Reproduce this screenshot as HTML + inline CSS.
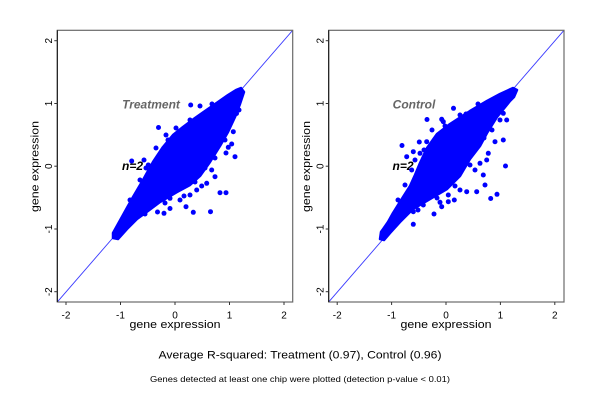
<!DOCTYPE html>
<html><head><meta charset="utf-8"><style>
html,body{margin:0;padding:0;background:#fff;}
svg{display:block;font-family:"Liberation Sans",Arial,sans-serif;}
</style></head><body>
<svg width="600" height="400" viewBox="0 0 600 400" xmlns="http://www.w3.org/2000/svg">
<rect width="600" height="400" fill="#fff"/>
<defs>
<clipPath id="c1"><rect x="57.3" y="30.3" width="235.4" height="271.7"/></clipPath>
<clipPath id="c2"><rect x="328.7" y="30.3" width="235.3" height="271.7"/></clipPath>
</defs>

<!-- LEFT PANEL -->
<g font-weight="bold" font-style="italic" font-size="12">
<text x="151" y="108.5" text-anchor="middle" fill="#666">Treatment</text>
<text x="122" y="170" fill="#000">n=2</text>
</g>
<g clip-path="url(#c1)">
<line x1="57.3" y1="302" x2="292.7" y2="30.3" stroke="#3a3aff" stroke-width="0.9"/>
<polygon fill="#0000ff" stroke="#0000ff" stroke-width="2.5" stroke-linejoin="round" points="113,238 113,233 123,215 133,197 143,180 153,162 163,147 173,135 183,127 195,118 205,111 218,102 228,95 236,90 241,88 244,92 240,104 235,117 228,132 220,146 210,162 200,176 190,185 177,192 160,202 148,211 137,219 127,229 118,239"/>
<g fill="#0000ff">
<circle cx="190.7" cy="105" r="2.5"/><circle cx="200" cy="106" r="2.5"/><circle cx="158.5" cy="127.5" r="2.5"/>
<circle cx="131.7" cy="161" r="2.5"/><circle cx="144" cy="160" r="2.5"/><circle cx="148.3" cy="165" r="2.5"/>
<circle cx="235" cy="156.7" r="2.5"/><circle cx="226" cy="153" r="2.5"/><circle cx="231.7" cy="144" r="2.5"/>
<circle cx="228.3" cy="147.3" r="2.5"/><circle cx="220" cy="192.7" r="2.5"/><circle cx="226" cy="192.7" r="2.5"/>
<circle cx="210.5" cy="211.7" r="2.5"/><circle cx="193.3" cy="212.3" r="2.5"/><circle cx="164" cy="213.3" r="2.5"/>
<circle cx="157.5" cy="212" r="2.5"/><circle cx="170" cy="208.5" r="2.5"/><circle cx="186" cy="206.7" r="2.5"/>
<circle cx="201.7" cy="186" r="2.5"/><circle cx="206.7" cy="183.3" r="2.5"/><circle cx="215" cy="176.7" r="2.5"/>
<circle cx="211.7" cy="170" r="2.5"/><circle cx="236.5" cy="113.5" r="2.5"/><circle cx="233.3" cy="131.7" r="2.5"/>
<circle cx="228.3" cy="126.7" r="2.5"/><circle cx="180" cy="200" r="2.5"/><circle cx="190" cy="195" r="2.5"/>
<circle cx="196.7" cy="190" r="2.5"/><circle cx="176.7" cy="190" r="2.5"/><circle cx="160" cy="200" r="2.5"/>
<circle cx="150" cy="203.3" r="2.5"/><circle cx="170" cy="198.3" r="2.5"/>
<circle cx="176" cy="128" r="2.5"/><circle cx="166" cy="135" r="2.5"/><circle cx="156" cy="148" r="2.5"/>
<circle cx="146" cy="168" r="2.5"/><circle cx="140" cy="180" r="2.5"/><circle cx="130" cy="200" r="2.5"/>
<circle cx="190" cy="120" r="2.5"/><circle cx="212" cy="104" r="2.5"/><circle cx="222" cy="138" r="2.5"/>
<circle cx="205" cy="168" r="2.5"/><circle cx="184" cy="196" r="2.5"/><circle cx="140" cy="214" r="2.5"/>
<circle cx="125" cy="222" r="2.5"/><circle cx="135" cy="205" r="2.5"/><circle cx="152" cy="170" r="2.5"/>
<circle cx="168" cy="140" r="2.5"/><circle cx="180" cy="131" r="2.5"/><circle cx="203" cy="115" r="2.5"/>
<circle cx="239" cy="110" r="2.5"/><circle cx="225" cy="140" r="2.5"/><circle cx="215" cy="158" r="2.5"/>
<circle cx="195" cy="182" r="2.5"/><circle cx="165" cy="203" r="2.5"/><circle cx="145" cy="214" r="2.5"/>
</g>
</g>
<rect x="57.3" y="30.3" width="235.4" height="271.7" fill="none" stroke="#6a6a6a" stroke-width="1.2"/>
<line x1="57.3" y1="30.3" x2="57.3" y2="302" stroke="#111" stroke-width="1"/>
<g stroke="#333" stroke-width="1">
<line x1="66" y1="302" x2="66" y2="305"/><line x1="120.5" y1="302" x2="120.5" y2="305"/><line x1="175" y1="302" x2="175" y2="305"/><line x1="229.5" y1="302" x2="229.5" y2="305"/><line x1="284" y1="302" x2="284" y2="305"/>
<line x1="54.3" y1="40.7" x2="57.3" y2="40.7"/><line x1="54.3" y1="103.5" x2="57.3" y2="103.5"/><line x1="54.3" y1="166.2" x2="57.3" y2="166.2"/><line x1="54.3" y1="229" x2="57.3" y2="229"/><line x1="54.3" y1="291.7" x2="57.3" y2="291.7"/>
</g>
<g font-size="10" fill="#000" text-anchor="middle">
<text x="66" y="318.5">-2</text><text x="120.5" y="318.5">-1</text><text x="175" y="318.5">0</text><text x="229.5" y="318.5">1</text><text x="284" y="318.5">2</text>
<text x="52" y="40.7" transform="rotate(-90 52 40.7)">2</text>
<text x="52" y="103.5" transform="rotate(-90 52 103.5)">1</text>
<text x="52" y="166.2" transform="rotate(-90 52 166.2)">0</text>
<text x="52" y="229" transform="rotate(-90 52 229)">-1</text>
<text x="52" y="291.7" transform="rotate(-90 52 291.7)">-2</text>
</g>
<text x="129.5" y="328" font-size="11" textLength="91" lengthAdjust="spacingAndGlyphs">gene expression</text>
<text x="38.5" y="212" font-size="11" textLength="91" lengthAdjust="spacingAndGlyphs" transform="rotate(-90 38.5 212)">gene expression</text>

<!-- RIGHT PANEL -->
<g font-weight="bold" font-style="italic" font-size="12">
<text x="414" y="108.5" text-anchor="middle" fill="#666">Control</text>
<text x="392.5" y="170" fill="#000">n=2</text>
</g>
<g clip-path="url(#c2)">
<line x1="328.7" y1="302" x2="564" y2="30.3" stroke="#3a3aff" stroke-width="0.9"/>
<polygon fill="#0000ff" stroke="#0000ff" stroke-width="2.5" stroke-linejoin="round" points="380,239 381,232 388,222 393,213 403,197 410,186 415,175 420,163 427,148 437,134 450,124 470,111 487,101 500,94 513,88 517,90 514,97 510,101 497,117 487,133 480,146 470,159 460,176 447,189 430,199 413,209 400,222 390,233 384,240"/>
<g fill="#0000ff">
<circle cx="453.5" cy="108.3" r="2.5"/><circle cx="427" cy="119.5" r="2.5"/><circle cx="441.7" cy="119.3" r="2.5"/>
<circle cx="443.3" cy="121.7" r="2.5"/><circle cx="402" cy="145.5" r="2.5"/><circle cx="419.3" cy="142" r="2.5"/>
<circle cx="426.7" cy="141.7" r="2.5"/><circle cx="413.3" cy="151.7" r="2.5"/><circle cx="420" cy="153.3" r="2.5"/>
<circle cx="505.5" cy="166" r="2.5"/><circle cx="503.3" cy="140" r="2.5"/><circle cx="495" cy="141.7" r="2.5"/>
<circle cx="506.7" cy="120" r="2.5"/><circle cx="503.3" cy="113.3" r="2.5"/><circle cx="483.3" cy="175" r="2.5"/>
<circle cx="485" cy="185" r="2.5"/><circle cx="476.7" cy="191.7" r="2.5"/><circle cx="497" cy="194.3" r="2.5"/>
<circle cx="490.7" cy="198.5" r="2.5"/><circle cx="466.7" cy="191.7" r="2.5"/><circle cx="460" cy="190" r="2.5"/>
<circle cx="448.3" cy="195" r="2.5"/><circle cx="448.3" cy="201.7" r="2.5"/><circle cx="440" cy="202.3" r="2.5"/>
<circle cx="434" cy="214" r="2.5"/><circle cx="441.7" cy="206.7" r="2.5"/><circle cx="423.3" cy="205" r="2.5"/>
<circle cx="411.7" cy="170" r="2.5"/><circle cx="406.7" cy="156.7" r="2.5"/><circle cx="486.7" cy="160" r="2.5"/>
<circle cx="488.3" cy="153.3" r="2.5"/><circle cx="480" cy="163.3" r="2.5"/><circle cx="413.3" cy="211.7" r="2.5"/>
<circle cx="413.3" cy="224.3" r="2.5"/><circle cx="500" cy="120" r="2.5"/><circle cx="454.3" cy="200" r="2.5"/>
<circle cx="432" cy="130" r="2.5"/><circle cx="460" cy="115" r="2.5"/><circle cx="478" cy="104" r="2.5"/>
<circle cx="415" cy="160" r="2.5"/><circle cx="405" cy="185" r="2.5"/><circle cx="398" cy="200" r="2.5"/>
<circle cx="492" cy="130" r="2.5"/><circle cx="475" cy="170" r="2.5"/><circle cx="455" cy="186" r="2.5"/>
<circle cx="395" cy="215" r="2.5"/><circle cx="408" cy="192" r="2.5"/><circle cx="424" cy="150" r="2.5"/>
<circle cx="445" cy="126" r="2.5"/><circle cx="466" cy="114" r="2.5"/><circle cx="484" cy="138" r="2.5"/>
<circle cx="470" cy="165" r="2.5"/><circle cx="437" cy="198" r="2.5"/><circle cx="418" cy="210" r="2.5"/>
</g>
</g>
<rect x="328.7" y="30.3" width="235.3" height="271.7" fill="none" stroke="#6a6a6a" stroke-width="1.2"/>
<line x1="328.7" y1="30.3" x2="328.7" y2="302" stroke="#111" stroke-width="1"/>
<g stroke="#333" stroke-width="1">
<line x1="337.2" y1="302" x2="337.2" y2="305"/><line x1="391.6" y1="302" x2="391.6" y2="305"/><line x1="446" y1="302" x2="446" y2="305"/><line x1="500.4" y1="302" x2="500.4" y2="305"/><line x1="554.8" y1="302" x2="554.8" y2="305"/>
<line x1="325.7" y1="40.7" x2="328.7" y2="40.7"/><line x1="325.7" y1="103.5" x2="328.7" y2="103.5"/><line x1="325.7" y1="166.2" x2="328.7" y2="166.2"/><line x1="325.7" y1="229" x2="328.7" y2="229"/><line x1="325.7" y1="291.7" x2="328.7" y2="291.7"/>
</g>
<g font-size="10" fill="#000" text-anchor="middle">
<text x="337.2" y="318.5">-2</text><text x="391.6" y="318.5">-1</text><text x="446" y="318.5">0</text><text x="500.4" y="318.5">1</text><text x="554.8" y="318.5">2</text>
<text x="323.4" y="40.7" transform="rotate(-90 323.4 40.7)">2</text>
<text x="323.4" y="103.5" transform="rotate(-90 323.4 103.5)">1</text>
<text x="323.4" y="166.2" transform="rotate(-90 323.4 166.2)">0</text>
<text x="323.4" y="229" transform="rotate(-90 323.4 229)">-1</text>
<text x="323.4" y="291.7" transform="rotate(-90 323.4 291.7)">-2</text>
</g>
<text x="400.5" y="328" font-size="11" textLength="91" lengthAdjust="spacingAndGlyphs">gene expression</text>
<text x="309.9" y="212" font-size="11" textLength="91" lengthAdjust="spacingAndGlyphs" transform="rotate(-90 309.9 212)">gene expression</text>

<!-- BOTTOM TEXT -->
<text x="158.5" y="358.5" font-size="11" textLength="283" lengthAdjust="spacingAndGlyphs">Average R-squared: Treatment (0.97), Control (0.96)</text>
<text x="150" y="382" font-size="8.5" textLength="300" lengthAdjust="spacingAndGlyphs">Genes detected at least one chip were plotted (detection p-value &lt; 0.01)</text>
</svg>
</body></html>
